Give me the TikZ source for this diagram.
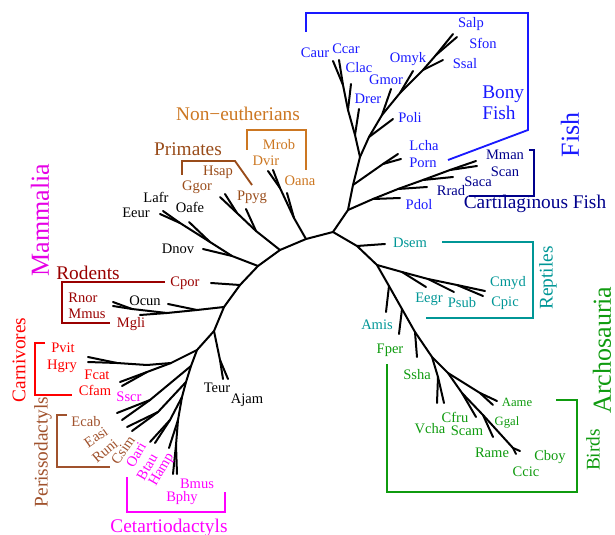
\documentclass[tikz,border=0pt]{standalone}
\usepackage{fontspec}
\setmainfont{Liberation Serif}
\definecolor{bony}{RGB}{25,25,255}
\definecolor{carti}{RGB}{0,0,140}
\definecolor{rept}{RGB}{0,150,150}
\definecolor{arch}{RGB}{15,155,15}
\definecolor{mamm}{RGB}{230,0,230}
\definecolor{ceta}{RGB}{255,0,255}
\definecolor{noneu}{RGB}{204,119,34}
\definecolor{prim}{RGB}{153,76,26}
\definecolor{rode}{RGB}{153,0,0}
\definecolor{carn}{RGB}{255,0,0}
\definecolor{peri}{RGB}{160,82,45}
\tikzset{
  br/.style={line width=1.5pt, line cap=round, line join=round, black},
  brk/.style={line width=1.4pt},
  leaf/.style={font=\fontsize{10.9}{13}\selectfont, inner sep=0pt},
  sml/.style={font=\fontsize{9.5}{11}\selectfont, inner sep=0pt},
  grp/.style={font=\fontsize{14.5}{15.8}\selectfont, inner sep=0pt},
  big/.style={font=\fontsize{19.5}{22}\selectfont, inner sep=0pt}
}
\begin{document}
\begin{tikzpicture}[x=0.75pt,y=-0.75pt]
\useasboundingbox (0,0) rectangle (615,535);
% ---------- coordinates: fish ----------
\coordinate (A) at (333,232);
\coordinate (F1) at (348,210);
\coordinate (Cj1) at (373,199); \coordinate (Pdole) at (400,198);
\coordinate (Cj2) at (398,189); \coordinate (Rrade) at (427,187);
\coordinate (Cj3) at (423,180); \coordinate (Sacae) at (453,177);
\coordinate (Cj4) at (450,170); \coordinate (Mmane) at (476,161); \coordinate (Scane) at (477,166);
\coordinate (F2) at (353,185); \coordinate (LPj) at (383,164);
\coordinate (Lchae) at (398,154); \coordinate (Porne) at (401,159);
\coordinate (F3) at (360,157);
\coordinate (Dj) at (355,135); \coordinate (Drere) at (359,109);
\coordinate (Clj) at (348,110); \coordinate (Clace) at (351,84);
\coordinate (CCj) at (343,85); \coordinate (Caure) at (333,61); \coordinate (Ccare) at (339,60);
\coordinate (Pj) at (369,137); \coordinate (Polie) at (393,119);
\coordinate (Gj) at (382,115); \coordinate (Gmore) at (391,89);
\coordinate (Oj) at (400,93); \coordinate (Omyke) at (413,71);
\coordinate (Sj) at (423,70); \coordinate (Ssale) at (443,60);
\coordinate (SSj) at (436,55); \coordinate (Salpe) at (453,34); \coordinate (Sfone) at (457,37);
% ---------- reptiles / archosaurs ----------
\coordinate (R1) at (357,246); \coordinate (Dseme) at (385,244);
\coordinate (R2) at (377,265);
\coordinate (Tj1) at (402,272); \coordinate (Eegre) at (426,287);
\coordinate (Tj2) at (428,279); \coordinate (Psube) at (454,292);
\coordinate (Tj3) at (457,285); \coordinate (Cmyde) at (485,291); \coordinate (Cpice) at (483,296);
\coordinate (Aj1) at (389,286); \coordinate (Amise) at (386,312);
\coordinate (Aj2) at (402,309); \coordinate (Fpere) at (399,334);
\coordinate (Aj3) at (415,332); \coordinate (Sshae) at (417,357);
\coordinate (Aj4) at (432,357); \coordinate (VCj) at (438,377);
\coordinate (Vchae) at (437,403); \coordinate (Cfrue) at (444,403);
\coordinate (Aj5) at (448,373); \coordinate (AGj) at (480,393);
\coordinate (Aamee) at (497,401); \coordinate (Ggale) at (493,405);
\coordinate (Aj6) at (462,393); \coordinate (Scame) at (476,417);
\coordinate (Aj7) at (483,415); \coordinate (Ramee) at (493,437);
\coordinate (Aj8) at (513,448); \coordinate (Ccice) at (516,454); \coordinate (Cboye) at (520,451);
% ---------- mammals ----------
\coordinate (M0) at (306,239);
\coordinate (NE1) at (294,218); \coordinate (Oanae) at (287,193);
\coordinate (NE2) at (280,188); \coordinate (Mrobe) at (268,171); \coordinate (Dvire) at (273,170);
\coordinate (M1) at (280,250);
\coordinate (PR1) at (256,231); \coordinate (Ppyge) at (246,209);
\coordinate (PR2) at (237,213); \coordinate (Ggore) at (220,197); \coordinate (Hsape) at (225,194);
\coordinate (M2) at (258,266);
\coordinate (AX1) at (232,256); \coordinate (Dnove) at (203,249);
\coordinate (AX2) at (210,242); \coordinate (Oafee) at (189,222);
\coordinate (AX3) at (180,223); \coordinate (Lafre) at (163,211); \coordinate (Eeure) at (160,214);
\coordinate (M3) at (240,285); \coordinate (Cpore) at (211,283);
\coordinate (M4) at (224,307);
\coordinate (RO1) at (197,310); \coordinate (Ocune) at (168,304);
\coordinate (RO2) at (167,313); \coordinate (Mglie) at (140,315);
\coordinate (RO3) at (132,309); \coordinate (Rnore) at (113,302); \coordinate (Mmuse) at (113,306);
\coordinate (M5) at (214,331);
\coordinate (TA1) at (220,360); \coordinate (Teure) at (223,379); \coordinate (Ajame) at (228,379);
\coordinate (L0) at (197,350);
\coordinate (C0) at (171,363);
\coordinate (PHj) at (147,365); \coordinate (PHj2) at (117,363);
\coordinate (Pvite) at (88,357); \coordinate (Hgrye) at (88,362);
\coordinate (FCj) at (147,372); \coordinate (Fcate) at (120,382); \coordinate (Cfame) at (122,386);
\coordinate (L1) at (191,366);
\coordinate (S1) at (150,400); \coordinate (P1e) at (117,413); \coordinate (P2e) at (122,420);
\coordinate (L2) at (186,382);
\coordinate (S2) at (158,412); \coordinate (P3e) at (127,427); \coordinate (P4e) at (132,431);
\coordinate (L3) at (182,397);
\coordinate (OBj) at (170,420); \coordinate (Oarie) at (150,442); \coordinate (Btaue) at (155,443);
\coordinate (L4) at (178,420); \coordinate (Hampe) at (169,448);
\coordinate (BBj) at (176,445); \coordinate (Bmuse) at (173,474); \coordinate (Bphye) at (177,474);
% ---------- tree ----------
\draw[br] (A)--(F1)--(F2)--(F3);
\draw[br] (F3)--(Dj)--(Clj)--(CCj)--(Caure); \draw[br] (CCj)--(Ccare);
\draw[br] (Clj)--(Clace); \draw[br] (Dj)--(Drere);
\draw[br] (F3)--(Pj)--(Gj)--(Oj)--(Sj)--(SSj)--(Salpe); \draw[br] (SSj)--(Sfone);
\draw[br] (Sj)--(Ssale); \draw[br] (Oj)--(Omyke); \draw[br] (Gj)--(Gmore); \draw[br] (Pj)--(Polie);
\draw[br] (F2)--(LPj)--(Lchae); \draw[br] (LPj)--(Porne);
\draw[br] (F1)--(Cj1)--(Cj2)--(Cj3)--(Cj4)--(Mmane); \draw[br] (Cj4)--(Scane);
\draw[br] (Cj3)--(Sacae); \draw[br] (Cj2)--(Rrade); \draw[br] (Cj1)--(Pdole);
\draw[br] (A)--(R1)--(R2)--(Aj1)--(Aj2)--(Aj3)--(Aj4)--(Aj5)--(Aj6)--(Aj7)--(Aj8)--(Ccice);
\draw[br] (Aj8)--(Cboye);
\draw[br] (R1)--(Dseme);
\draw[br] (R2)--(Tj1)--(Tj2)--(Tj3)--(Cmyde); \draw[br] (Tj3)--(Cpice);
\draw[br] (Tj2)--(Psube); \draw[br] (Tj1)--(Eegre);
\draw[br] (Aj1)--(Amise); \draw[br] (Aj2)--(Fpere); \draw[br] (Aj3)--(Sshae);
\draw[br] (Aj4)--(VCj)--(Vchae); \draw[br] (VCj)--(Cfrue);
\draw[br] (Aj5)--(AGj)--(Aamee); \draw[br] (AGj)--(Ggale);
\draw[br] (Aj6)--(Scame); \draw[br] (Aj7)--(Ramee);
\draw[br] (A)--(M0)--(M1)--(M2)--(M3)--(M4)--(M5)--(L0)--(L1)--(L2)--(L3);
\draw[br] (M0)--(NE1)--(NE2)--(Mrobe); \draw[br] (NE2)--(Dvire); \draw[br] (NE1)--(Oanae);
\draw[br] (M1)--(PR1)--(PR2)--(Ggore); \draw[br] (PR2)--(Hsape); \draw[br] (PR1)--(Ppyge);
\draw[br] (M2)--(AX1)--(AX2)--(AX3)--(Lafre); \draw[br] (AX3)--(Eeure);
\draw[br] (AX2)--(Oafee); \draw[br] (AX1)--(Dnove);
\draw[br] (M3)--(Cpore);
\draw[br] (M4)--(RO1)--(RO2)--(RO3)--(Rnore); \draw[br] (RO3)--(Mmuse);
\draw[br] (RO2)--(Mglie); \draw[br] (RO1)--(Ocune);
\draw[br] (M5)--(TA1)--(Teure); \draw[br] (TA1)--(Ajame);
\draw[br] (L0)--(C0)--(PHj)--(PHj2)--(Pvite); \draw[br] (PHj2)--(Hgrye);
\draw[br] (C0)--(FCj)--(Fcate); \draw[br] (FCj)--(Cfame);
\draw[br] (L1)--(S1)--(P1e); \draw[br] (S1)--(P2e);
\draw[br] (L2)--(S2)--(P3e); \draw[br] (S2)--(P4e);
\draw[br] (L3)--(OBj)--(Oarie); \draw[br] (OBj)--(Btaue);
\draw[br] (L3)--(L4)--(Hampe); \draw[br] (L4)--(BBj)--(Bmuse); \draw[br] (BBj)--(Bphye);
% ---------- brackets ----------
\draw[brk,bony] (306,32)--(306,13)--(528,13)--(528,130)--(448,160);
\draw[brk,carti] (529,150)--(534,150)--(534,196)--(469,196);
\draw[brk,noneu] (247,150)--(247,130)--(306,130)--(306,170);
\draw[brk,prim] (182,175)--(182,161)--(235,161)--(252,185);
\draw[brk,rode] (165,282)--(62,282)--(62,323)--(110,323);
\draw[brk,carn] (45,343)--(35,343)--(35,395)--(72,395);
\draw[brk,peri] (67,415)--(57,415)--(57,467)--(110,467);
\draw[brk,ceta] (127,477)--(127,512)--(225,512)--(225,492);
\draw[brk,rept] (442,242)--(533,242)--(533,318)--(426,318);
\draw[brk,arch] (387,364)--(387,492)--(577,492)--(577,400)--(556,400);
% ---------- fish labels ----------
\begin{scope}[every node/.style={leaf,text=bony}]
\node (Salp) at (471,24) {Salp};
\node (Sfon) at (483,43) {Sfon};
\node (Ssal) at (465,64) {Ssal};
\node (Caur) at (315,53) {Caur};
\node (Ccar) at (346,49) {Ccar};
\node (Clac) at (359,68) {Clac};
\node (Omyk) at (408,59) {Omyk};
\node (Gmor) at (386,80) {Gmor};
\node (Drer) at (368,99) {Drer};
\node (Poli) at (410,118) {Poli};
\node (Lcha) at (424,146) {Lcha};
\node (Porn) at (423,163) {Porn};
\end{scope}
\begin{scope}[every node/.style={leaf,text=carti}]
\node (Mman) at (505,155) {Mman};
\node (Scan) at (505,172) {Scan};
\node (Saca) at (478,182) {Saca};
\node (Rrad) at (451,191) {Rrad};
\end{scope}
\node[leaf,text=bony] (Pdol) at (419,205) {Pdol};
\node[grp,text=bony,align=left,anchor=west] (Bony) at (482,103) {Bony\\Fish};
\node[grp,text=carti] (Cart) at (535,204) {Cartilaginous Fish};
\node[big,text=bony,rotate=90] (Fish) at (570,135) {Fish};
% ---------- reptile / bird labels ----------
\begin{scope}[every node/.style={leaf,text=rept}]
\node (Dsem) at (410,243) {Dsem};
\node (Cmyd) at (508,283) {Cmyd};
\node (Cpic) at (505,303) {Cpic};
\node (Eegr) at (429,299) {Eegr};
\node (Psub) at (462,303) {Psub};
\node (Amis) at (377,325) {Amis};
\end{scope}
\node[grp,text=rept,rotate=90] (Rept) at (548,278) {Reptiles};
\begin{scope}[every node/.style={leaf,text=arch}]
\node (Fper) at (390,350) {Fper};
\node (Ssha) at (417,375) {Ssha};
\node (Cfru) at (455,417) {Cfru};
\node (Vcha) at (430,429) {Vcha};
\node (Scam) at (467,431) {Scam};
\node (Rame) at (492,453) {Rame};
\node (Cboy) at (550,457) {Cboy};
\node (Ccic) at (526,472) {Ccic};
\end{scope}
\node[sml,text=arch] (Aame) at (517,402) {Aame};
\node[sml,text=arch] (Ggal) at (507,422) {Ggal};
\node[grp,text=arch,rotate=90] (Birds) at (593,450) {Birds};
\node[big,text=arch,rotate=90] (Archo) at (602,350) {Archosauria};
% ---------- mammal labels ----------
\node[grp,text=noneu] (NonEu) at (238,114) {Non\char"2212 eutherians};
\node[leaf,text=noneu] (Mrob) at (279,145) {Mrob};
\node[leaf,text=noneu] (Dvir) at (266,161) {Dvir};
\node[leaf,text=noneu] (Oana) at (300,181) {Oana};
\node[grp,text=prim] (Prim) at (188,149) {Primates};
\node[leaf,text=prim] (Hsap) at (218,172) {Hsap};
\node[leaf,text=prim] (Ggor) at (197,187) {Ggor};
\node[leaf,text=prim] (Ppyg) at (252,197) {Ppyg};
\node[leaf] (Lafr) at (156,197) {Lafr};
\node[leaf] (Oafe) at (190,207) {Oafe};
\node[leaf] (Eeur) at (136,213) {Eeur};
\node[leaf] (Dnov) at (178,249) {Dnov};
\node[big,text=mamm,rotate=90] (Mamm) at (40,220) {Mammalia};
\node[grp,text=rode] (Rod) at (88,273) {Rodents};
\node[leaf,text=rode] (Cpor) at (185,283) {Cpor};
\node[leaf,text=rode] (Rnor) at (83,298) {Rnor};
\node[leaf,text=rode] (Mmus) at (87,314) {Mmus};
\node[leaf] (Ocun) at (145,301) {Ocun};
\node[leaf,text=rode] (Mgli) at (131,324) {Mgli};
\node[grp,text=carn,rotate=90] (Carn) at (19,360) {Carnivores};
\node[leaf,text=carn] (Pvit) at (63,348) {Pvit};
\node[leaf,text=carn] (Hgry) at (62,366) {Hgry};
\node[leaf,text=carn] (Fcat) at (97,375) {Fcat};
\node[leaf,text=carn] (Cfam) at (95,390) {Cfam};
\node[leaf,text=ceta] (Sscr) at (129,397) {Sscr};
\node[grp,text=peri,rotate=90] (Peri) at (43,452) {Perissodactyls};
\node[leaf,text=peri] (Ecab) at (86,422) {Ecab};
\node[leaf,text=peri,rotate=35] (Easi) at (96,437) {Easi};
\node[leaf,text=peri,rotate=40] (Runi) at (105,451) {Runi};
\node[leaf,text=peri,rotate=55] (Csim) at (123,450) {Csim};
\node[leaf,text=ceta,rotate=60] (Oari) at (136,455) {Oari};
\node[leaf,text=ceta,rotate=60] (Btau) at (147,467) {Btau};
\node[leaf,text=ceta,rotate=60] (Hamp) at (162,470) {Hamp};
\node[leaf,text=ceta] (Bmus) at (197,484) {Bmus};
\node[leaf,text=ceta] (Bphy) at (182,498) {Bphy};
\node[grp,text=ceta] (Ceta) at (169,528) {Cetartiodactyls};
\node[leaf] (Teur) at (217,388) {Teur};
\node[leaf] (Ajam) at (247,400) {Ajam};
\end{tikzpicture}
\end{document}
